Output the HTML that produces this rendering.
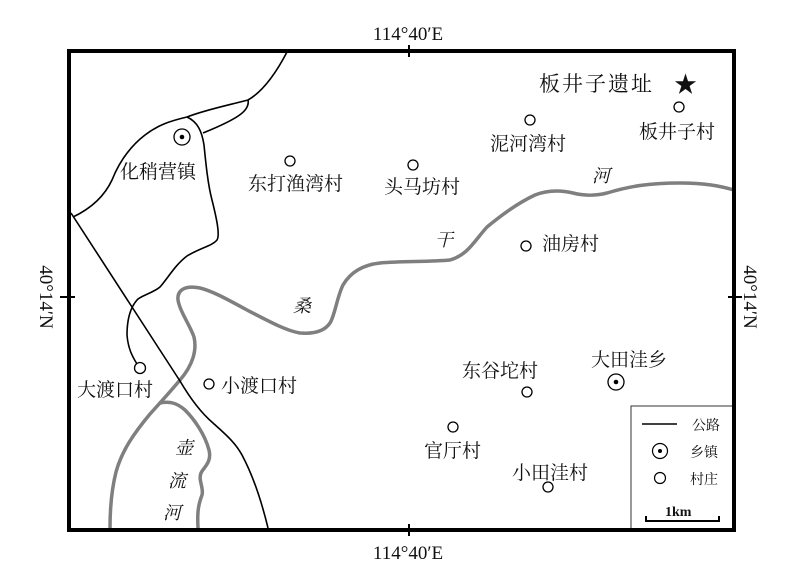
<!DOCTYPE html>
<html><head><meta charset="utf-8"><style>
html,body{margin:0;padding:0;background:#fff;}
svg{display:block;}
text{font-family:"Liberation Serif","Noto Serif CJK SC",serif;fill:#111;}
.v{font-size:19px;}
</style></head><body>
<svg width="790" height="574" viewBox="0 0 790 574" xmlns="http://www.w3.org/2000/svg">
<rect x="0" y="0" width="790" height="574" fill="#fff"/>
<g fill="none" stroke="#7f7f7f" stroke-width="3.5" stroke-linecap="round" stroke-linejoin="round">
<path d="M734,190 C720,186 705,183 680,183 C650,183 630,186 607,193 C595,196 585,196 573,193 C560,190 548,190 535,195 C520,202 505,212 487,227 C475,240 468,255 450,260 C430,262 400,261 380,263 C362,265 350,273 343,285 C337,297 335,315 330,323 C324,332 313,334 300,333 C287,331 270,322 247,310 C225,298 212,291 200,288 C185,285 177,290 178,300 C180,312 190,325 194,337 C197,350 193,365 180,380 C170,392 160,403 150,414 C135,432 122,450 116,472 C111,492 110,510 110,528"/>
<path d="M160,403 C170,401 177,403 185,410 C195,420 205,435 209,450 C212,462 204,467 201,473 C198,480 204,488 202,495 C199,503 197,510 198,528"/>
</g>
<g fill="none" stroke="#000" stroke-width="1.6" stroke-linejoin="round">
<path d="M287,52 C275,75 262,92 248,100 C225,106 205,110 187,117 C170,121 158,125 145,135 C132,145 120,160 112,180 C105,195 92,208 73,217"/>
<path d="M248,100 C250,110 240,118 203,133"/>
<path d="M187,117 C198,122 202,132 204,145 C206,165 208,185 212,200 C217,220 220,235 217,240 C212,246 200,248 187,256 C175,265 168,278 160,287 C153,293 140,296 137,300 C130,308 127,320 127,335 C128,348 132,356 137,364"/>
<path d="M71,213 L180,381 C190,398 200,412 213,423 C225,434 235,442 242,455 C250,470 260,495 268,528"/>
</g>
<rect x="69" y="51" width="665" height="479" fill="none" stroke="#000" stroke-width="4"/>
<g stroke="#000" stroke-width="2">
<line x1="409" y1="45" x2="409" y2="57"/>
<line x1="409" y1="524" x2="409" y2="536"/>
<line x1="60" y1="297" x2="75" y2="297"/>
<line x1="728" y1="297" x2="742" y2="297"/>
</g>
<text x="408" y="40" font-size="19" text-anchor="middle">114°40′E</text>
<text x="408" y="559" font-size="19" text-anchor="middle">114°40′E</text>
<text transform="translate(40,297) rotate(90)" font-size="19" text-anchor="middle">40°14′N</text>
<text transform="translate(744,297) rotate(90)" font-size="19" text-anchor="middle">40°14′N</text>
<g fill="#fff" stroke="#000" stroke-width="1.3">
<circle cx="182" cy="137" r="8"/>
<circle cx="616" cy="382" r="8"/>
<circle cx="140" cy="368" r="5.5"/>
<circle cx="290" cy="161" r="5"/>
<circle cx="413" cy="165" r="5"/>
<circle cx="530" cy="120" r="5"/>
<circle cx="679" cy="107" r="5"/>
<circle cx="526" cy="246" r="5"/>
<circle cx="209" cy="384" r="5"/>
<circle cx="527" cy="392" r="5"/>
<circle cx="453" cy="427" r="5"/>
<circle cx="548" cy="487" r="5"/>
</g>
<circle cx="182" cy="137" r="2.3" fill="#000"/>
<circle cx="616" cy="382" r="2.3" fill="#000"/>
<text class="v" x="120" y="178">化稍营镇</text>
<text class="v" x="248" y="190">东打渔湾村</text>
<text class="v" x="384" y="193">头马坊村</text>
<text class="v" x="490" y="150">泥河湾村</text>
<text class="v" x="639" y="138">板井子村</text>
<text x="539" y="91" font-size="21" letter-spacing="2">板井子遗址</text>
<text x="674" y="92" font-size="23">★</text>
<text class="v" x="542" y="250">油房村</text>
<text class="v" x="77" y="396">大渡口村</text>
<text class="v" x="221" y="392">小渡口村</text>
<text class="v" x="462" y="377">东谷坨村</text>
<text class="v" x="591" y="366">大田洼乡</text>
<text class="v" x="424" y="457">官厅村</text>
<text class="v" x="512" y="479">小田洼村</text>
<g font-size="18" font-style="italic">
<text x="592" y="182">河</text>
<text x="435" y="246">干</text>
<text x="293" y="312">桑</text>
<text x="175" y="454">壶</text>
<text x="168" y="487">流</text>
<text x="163" y="519">河</text>
</g>
<rect x="631" y="406" width="103" height="124" fill="#fff" stroke="#333" stroke-width="1"/>
<rect x="69" y="51" width="665" height="479" fill="none" stroke="#000" stroke-width="4"/>
<line x1="642" y1="424" x2="677" y2="424" stroke="#000" stroke-width="1.5"/>
<text x="692" y="430" font-size="14">公路</text>
<circle cx="660" cy="451" r="7.5" fill="#fff" stroke="#000" stroke-width="1.2"/>
<circle cx="660" cy="451" r="2" fill="#000"/>
<text x="690" y="457" font-size="14">乡镇</text>
<circle cx="660" cy="478" r="5.5" fill="#fff" stroke="#000" stroke-width="1.2"/>
<text x="690" y="484" font-size="14">村庄</text>
<text x="665" y="516" font-size="14" font-weight="bold">1km</text>
<path d="M646,516 L646,521 L719,521 L719,516" fill="none" stroke="#000" stroke-width="2"/>
</svg>
</body></html>
